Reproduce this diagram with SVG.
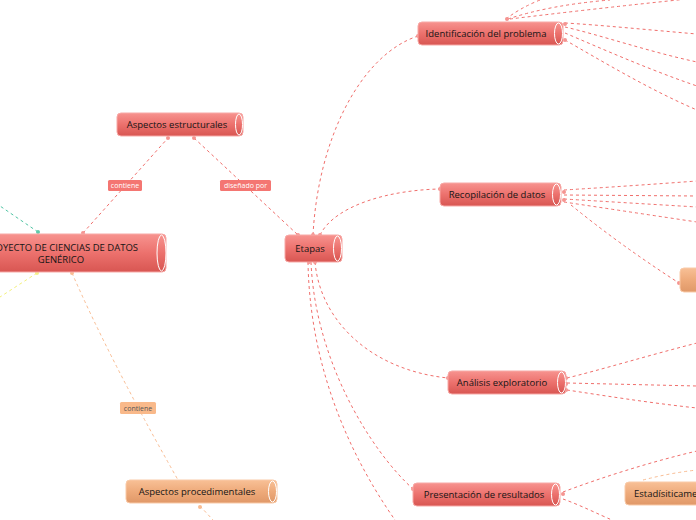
<svg xmlns="http://www.w3.org/2000/svg" width="696" height="520" viewBox="0 0 696 520">
<defs>
<linearGradient id="gR" x1="0" y1="0" x2="0" y2="1">
<stop offset="0" stop-color="#f7938f"/><stop offset="0.5" stop-color="#ec716d"/><stop offset="1" stop-color="#d85652"/>
</linearGradient>
<linearGradient id="gO" x1="0" y1="0" x2="0" y2="1">
<stop offset="0" stop-color="#f8c096"/><stop offset="0.5" stop-color="#eeaa7a"/><stop offset="1" stop-color="#e09868"/>
</linearGradient>
</defs>
<style>
.c{fill:none;stroke-width:1;stroke-dasharray:3 3}
.r{stroke:#f06e6b}
.o{stroke:#f9bc92}
.t{stroke:#4fc4a3}
.y{stroke:#f3f07a}
.dr{fill:#f59491}
.do{fill:#f9bc92}
.nr{fill:url(#gR);stroke:#f7a9a6;stroke-width:1}
.no{fill:url(#gO);stroke:#f9caa8;stroke-width:1}
.cap{stroke:#ffffff;stroke-width:1}
.tx{font-family:"Open Sans","Liberation Sans",sans-serif;font-size:9.5px;fill:#151515}
.lb{font-family:"Open Sans","Liberation Sans",sans-serif;font-size:7px}
</style>
<rect width="696" height="520" fill="#ffffff"/>
<g id="connectors">
<path class="c r" d="M83,233 L168,138"/>
<path class="c r" d="M194,138 L298,235"/>
<path class="c r" d="M313,235 C318,140 360,55 418,36"/>
<path class="c r" d="M320,235 C335,205 390,190 440,189"/>
<path class="c r" d="M315,262 C320,320 370,370 448,378"/>
<path class="c r" d="M311,262 C315,360 370,450 413,489"/>
<path class="c r" d="M308,262 C310,380 360,470 395,520"/>
<path class="c r" d="M506,19 Q520,8 540,0"/>
<path class="c r" d="M508,19 Q550,5 610,0"/>
<path class="c r" d="M510,19 Q600,8 697,-2"/>
<path class="c r" d="M565,23 C600,25 650,30 697,34"/>
<path class="c r" d="M565,27 C600,35 650,52 697,62"/>
<path class="c r" d="M565,33 C600,48 650,70 697,86"/>
<path class="c r" d="M565,40 C600,60 650,90 697,110"/>
<path class="c r" d="M564,190 Q630,186 697,181"/>
<path class="c r" d="M564,195 L697,196"/>
<path class="c r" d="M564,199 Q630,203 697,207"/>
<path class="c r" d="M564,202 Q630,212 697,222"/>
<path class="c r" d="M571,205 Q620,245 679,283"/>
<path class="c r" d="M567,378 C600,370 650,355 697,343"/>
<path class="c r" d="M567,383 L697,386"/>
<path class="c r" d="M567,390 C600,395 650,403 697,408"/>
<path class="c r" d="M563,492 C600,478 650,462 697,451"/>
<path class="c r" d="M563,499 C580,505 600,515 612,520"/>
<path class="c o" d="M643,480 Q670,473 697,470"/>
<path class="c t" d="M38,232 L0,206"/>
<path class="c y" d="M37,273 L0,297"/>
<path class="c o" d="M72,273 Q110,360 178,480"/>
<path class="c o" d="M200,506 L213,520"/>
<circle class="dr" cx="83" cy="233" r="2"/>
<circle class="dr" cx="168" cy="138" r="2"/>
<circle class="dr" cx="194" cy="138" r="2"/>
<circle class="dr" cx="298" cy="235" r="2"/>
<circle class="dr" cx="313" cy="235" r="2"/>
<circle class="dr" cx="320" cy="235" r="2"/>
<circle class="dr" cx="418" cy="36" r="2"/>
<circle class="dr" cx="440" cy="189" r="2"/>
<circle class="dr" cx="448" cy="378" r="2"/>
<circle class="dr" cx="413" cy="489" r="2"/>
<circle class="dr" cx="309" cy="262" r="2"/>
<circle class="dr" cx="315" cy="262" r="2"/>
<circle class="dr" cx="507" cy="19" r="2"/>
<circle class="dr" cx="565" cy="24" r="2"/>
<circle class="dr" cx="565" cy="40" r="2"/>
<circle class="dr" cx="564" cy="192" r="2"/>
<circle class="dr" cx="564" cy="200" r="2"/>
<circle class="dr" cx="679" cy="283" r="2"/>
<circle class="dr" cx="566" cy="378" r="2"/>
<circle class="dr" cx="566" cy="384" r="2"/>
<circle class="dr" cx="566" cy="390" r="2"/>
<circle class="dr" cx="563" cy="494" r="2"/>
<circle class="do" cx="72" cy="273" r="2"/>
<circle class="do" cx="200" cy="507" r="2"/>
<circle cx="38" cy="232" r="2" fill="#5fc9aa"/>
<circle cx="37" cy="273" r="2" fill="#f4f08a"/>
</g>
<g id="lbl-contiene-1">
<rect x="108" y="180" width="34" height="11" rx="1.5" fill="#f47672"/>
<text class="lb" x="125" y="188" text-anchor="middle" fill="#ffffff">contiene</text>
</g>
<g id="lbl-disenado">
<rect x="220" y="180" width="51" height="11" rx="1.5" fill="#f47672"/>
<text class="lb" x="245.5" y="188" text-anchor="middle" fill="#ffffff">diseñado por</text>
</g>
<g id="lbl-contiene-2">
<rect x="120" y="402" width="36" height="12" rx="1.5" fill="#f9b98a"/>
<text class="lb" x="138" y="410.5" text-anchor="middle" fill="#555555">contiene</text>
</g>
<g id="n-central">
<rect class="nr" x="-20" y="234" width="186" height="38" rx="4"/>
<ellipse class="nr cap" cx="161.5" cy="253" rx="4.5" ry="18"/>
<text class="tx" x="61" y="251" text-anchor="middle">PROYECTO DE CIENCIAS DE DATOS</text>
<text class="tx" x="61" y="263" text-anchor="middle">GENÉRICO</text>
</g>
<g id="n-estructurales">
<rect class="nr" x="117" y="113" width="126" height="23" rx="4"/>
<ellipse class="nr cap" cx="239" cy="124.5" rx="3.5" ry="10.5"/>
<text class="tx" x="177" y="128" text-anchor="middle">Aspectos estructurales</text>
</g>
<g id="n-etapas">
<rect class="nr" x="285" y="235" width="57" height="27" rx="4"/>
<ellipse class="nr cap" cx="337.5" cy="248.5" rx="4" ry="12.5"/>
<text class="tx" x="310" y="252" text-anchor="middle">Etapas</text>
</g>
<g id="n-identificacion">
<rect class="nr" x="418" y="22" width="145" height="23" rx="4"/>
<ellipse class="nr cap" cx="558.5" cy="33.5" rx="4" ry="10.5"/>
<text class="tx" x="486" y="37" text-anchor="middle">Identificación del problema</text>
</g>
<g id="n-recopilacion">
<rect class="nr" x="440" y="183" width="121" height="23" rx="4"/>
<ellipse class="nr cap" cx="556.5" cy="194.5" rx="4" ry="10.5"/>
<text class="tx" x="497" y="198" text-anchor="middle">Recopilación de datos</text>
</g>
<g id="n-analisis">
<rect class="nr" x="448" y="371" width="118" height="23" rx="4"/>
<ellipse class="nr cap" cx="561.5" cy="382.5" rx="4" ry="10.5"/>
<text class="tx" x="502" y="386" text-anchor="middle">Análisis exploratorio</text>
</g>
<g id="n-presentacion">
<rect class="nr" x="413" y="483" width="147" height="23" rx="4"/>
<ellipse class="nr cap" cx="555.5" cy="494.5" rx="4" ry="10.5"/>
<text class="tx" x="484" y="498" text-anchor="middle">Presentación de resultados</text>
</g>
<g id="n-estadisticamente">
<rect class="no" x="625" y="482" width="100" height="23" rx="4"/>
<text class="tx" x="634" y="497">Estadísiticame</text>
</g>
<g id="n-orange-right">
<rect class="no" x="680" y="268" width="40" height="24" rx="4"/>
</g>
<g id="n-procedimentales">
<rect class="no" x="126" y="480" width="151" height="23" rx="4"/>
<ellipse class="no cap" cx="272.5" cy="491.5" rx="4" ry="10.5"/>
<text class="tx" x="197" y="495" text-anchor="middle">Aspectos procedimentales</text>
</g>
</svg>
